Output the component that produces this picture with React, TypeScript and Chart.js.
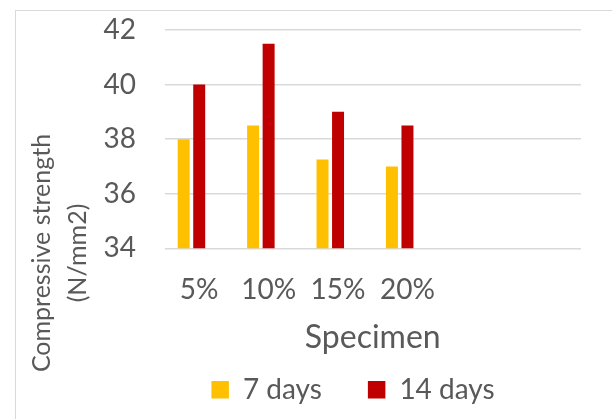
import { useEffect, useRef } from 'react';
import { Chart, registerables } from 'chart.js';

Chart.register(...registerables);

// Categories on the x axis (the last two slots are empty, leaving room on the right)
const categories = ['5%', '10%', '15%', '20%', '', ''];
// Compressive strength (N/mm2) per mix
const sevenDays = [38, 38.5, 37.25, 37];
const fourteenDays = [40, 41.5, 39, 38.5];
const seriesNames = ['7 days', '14 days'];
const yMin = 34;
const yMax = 42;
const yStep = 2;
const xTitle = 'Specimen';
const yTitle = ['Compressive strength', '(N/mm2)'];

const FONT = 'Lato';
const TEXT = '#595959';
const GRID = '#d9d9d9';
const YELLOW = '#FFC000';
const RED = '#C00000';

// Frame around the whole chart plus the two-line, rotated y-axis title
const framePlugin = {
  id: 'frameAndYTitle',
  beforeDraw(chart: Chart) {
    const { ctx } = chart;
    ctx.save();
    ctx.strokeStyle = GRID;
    ctx.lineWidth = 1;
    ctx.strokeRect(15.5, 10.5, 900, 700);
    ctx.restore();
  },
  afterDraw(chart: Chart) {
    const { ctx } = chart;
    ctx.save();
    ctx.translate(49.5, 253);
    ctx.rotate(-Math.PI / 2);
    ctx.font = `25px ${FONT}`;
    ctx.fillStyle = TEXT;
    ctx.textAlign = 'center';
    ctx.textBaseline = 'alphabetic';
    ctx.fillText(yTitle[0], 0, 0);
    ctx.fillText(yTitle[1], 0, 36.5);
    ctx.restore();
  },
};

export default function App() {
  const canvasRef = useRef<HTMLCanvasElement>(null);

  useEffect(() => {
    if (!canvasRef.current) return;
    const chart = new Chart(canvasRef.current, {
      type: 'bar',
      data: {
        labels: categories,
        datasets: [
          { label: seriesNames[0], data: sevenDays, backgroundColor: YELLOW, borderWidth: 0 },
          { label: seriesNames[1], data: fourteenDays, backgroundColor: RED, borderWidth: 0 },
          { label: '', data: categories.map(() => null), backgroundColor: 'rgba(0,0,0,0)', borderWidth: 0 },
        ],
      },
      options: {
        responsive: false,
        animation: false,
        devicePixelRatio: 1,
        categoryPercentage: 0.671,
        barPercentage: 0.772,
        layout: { padding: { left: 125, right: 31, top: 30, bottom: 5.25 } },
        plugins: {
          tooltip: { enabled: false },
          legend: {
            position: 'bottom',
            labels: {
              boxWidth: 17.5,
              boxHeight: 17.5,
              padding: 46,
              color: TEXT,
              font: { family: FONT, size: 28 },
              filter: (item: any) => item.datasetIndex < 2,
            },
          },
        },
        scales: {
          x: {
            grid: { display: false, drawTicks: false },
            border: { display: false },
            ticks: {
              color: TEXT,
              font: { family: FONT, size: 28 },
              padding: 25,
              maxRotation: 0,
              autoSkip: false,
            },
            title: {
              display: true,
              text: xTitle,
              color: TEXT,
              font: { family: FONT, size: 32 },
              padding: { top: 0, bottom: -26.75 },
            },
            afterFit(scale: any) {
              scale.height = 81.45;
            },
          },
          y: {
            min: yMin,
            max: yMax,
            ticks: {
              stepSize: yStep,
              color: TEXT,
              font: { family: FONT, size: 28 },
              mirror: true,
              padding: -61,
            },
            grid: { color: GRID, lineWidth: 1.5, drawTicks: false },
            border: { display: false },
            afterFit(scale: any) {
              scale.width = 164.5 - 125;
            },
          },
        },
      },
      plugins: [framePlugin],
    });
    return () => chart.destroy();
  }, []);

  return (
    <div style={{ position: 'absolute', left: 0, top: 0, width: 612, height: 419, overflow: 'hidden', background: '#fff' }}>
      <canvas ref={canvasRef} width={612} height={419} style={{ display: 'block' }} />
    </div>
  );
}
